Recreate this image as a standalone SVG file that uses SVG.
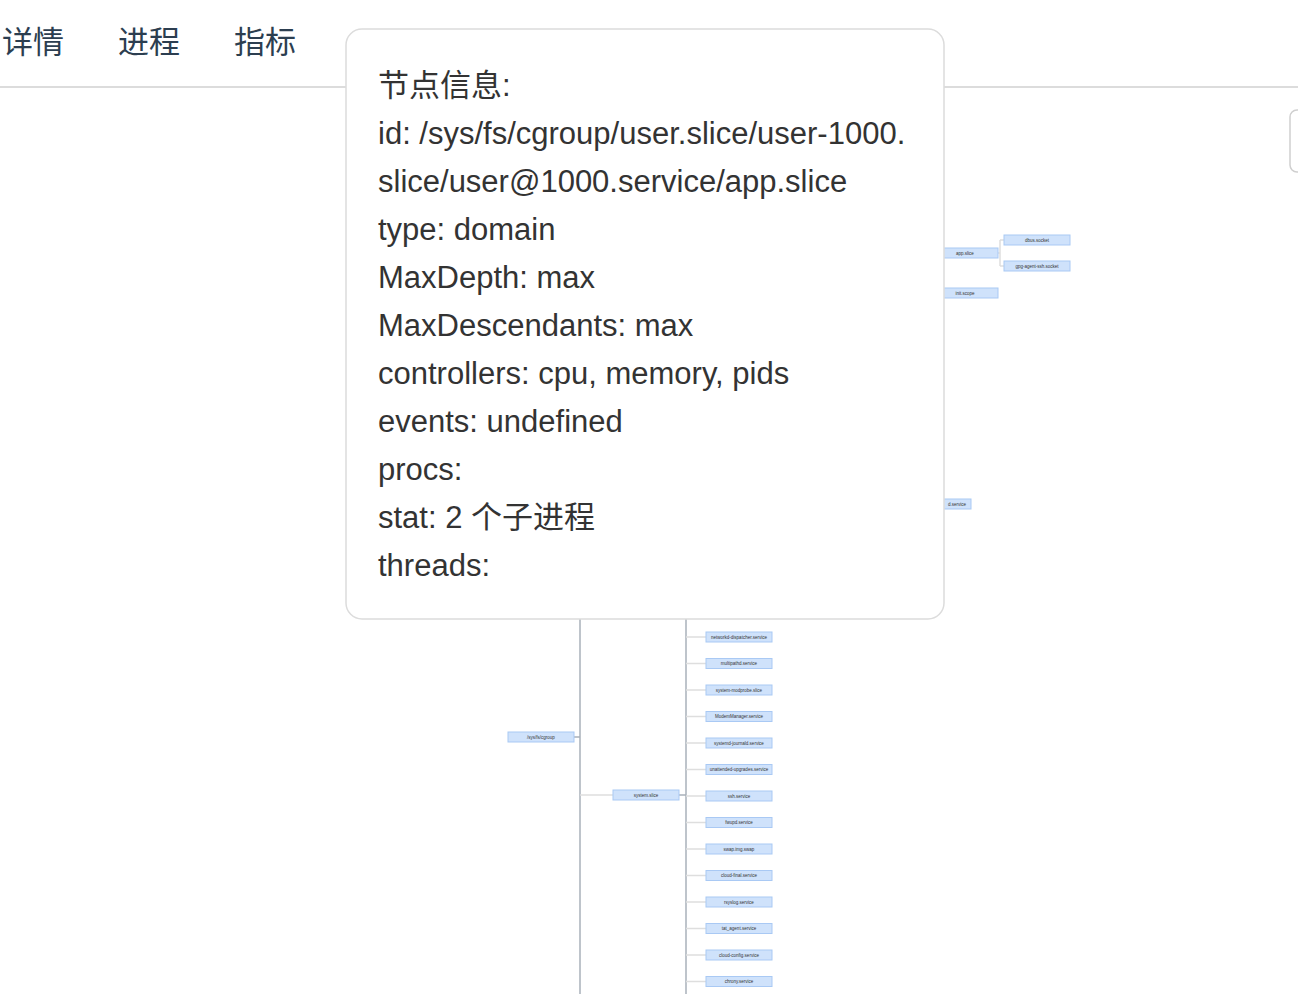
<svg xmlns="http://www.w3.org/2000/svg" width="1298" height="994" viewBox="0 0 1298 994">
<style>
.tab{font-family:"Liberation Sans","Noto Sans CJK SC",sans-serif;font-size:31px;fill:#2c3e50}
.node rect{fill:#cfe2fb;stroke:#a9c9f4;stroke-width:1}
.node text{font-family:"Liberation Sans",sans-serif;font-size:4.5px;fill:#333;text-anchor:middle}
.trunk{stroke:#a9b1ba;stroke-width:1.5;fill:none}
.branch{stroke:#dedede;stroke-width:1.5;fill:none}
.tip text{font-family:"Liberation Sans","Noto Sans CJK SC",sans-serif;font-size:31px;fill:#333}
</style>
<rect width="1298" height="994" fill="#fff"/>
<g id="tabs">
<text class="tab" x="2" y="53">详情</text>
<text class="tab" x="118" y="53">进程</text>
<text class="tab" x="234" y="53">指标</text>
<line x1="0" y1="87" x2="1298" y2="87" stroke="#dcdcdc" stroke-width="2"/>
</g>
<rect id="side-button" x="1290" y="110" width="20" height="62" rx="7" fill="#fff" stroke="#cfcfcf" stroke-width="1.5"/>
<g id="connectors">
<line class="trunk" x1="580" y1="560" x2="580" y2="994"/>
<line class="trunk" x1="574" y1="737" x2="580" y2="737"/>
<line class="branch" x1="580" y1="795" x2="613" y2="795"/>
<line class="trunk" x1="686" y1="560" x2="686" y2="994"/>
<line class="trunk" x1="679" y1="795" x2="686" y2="795"/>
<path class="branch" d="M686 637H706M686 663.5H706M686 690H706M686 716.5H706M686 743H706M686 769.5H706M686 796H706M686 822.5H706M686 849H706M686 875.5H706M686 902H706M686 928.5H706M686 955H706M686 981.5H706"/>
<path class="branch" d="M998 253H1000M1000 240V266M1000 240H1004M1000 266H1004"/>
</g>
<g id="node-cgroup" class="node"><rect x="508" y="732" width="66" height="10"/><text x="541" y="738.6">/sys/fs/cgroup</text></g>
<g id="node-system-slice" class="node"><rect x="613" y="790" width="66" height="10"/><text x="646" y="796.6">system.slice</text></g>
<g id="node-networkd" class="node"><rect x="706" y="632" width="66" height="10"/><text x="739" y="638.6">networkd-dispatcher.service</text></g>
<g id="node-multipathd" class="node"><rect x="706" y="658.5" width="66" height="10"/><text x="739" y="665.1">multipathd.service</text></g>
<g id="node-modprobe" class="node"><rect x="706" y="685" width="66" height="10"/><text x="739" y="691.6">system-modprobe.slice</text></g>
<g id="node-modem" class="node"><rect x="706" y="711.5" width="66" height="10"/><text x="739" y="718.1">ModemManager.service</text></g>
<g id="node-journald" class="node"><rect x="706" y="738" width="66" height="10"/><text x="739" y="744.6">systemd-journald.service</text></g>
<g id="node-unattended" class="node"><rect x="706" y="764.5" width="66" height="10"/><text x="739" y="771.1">unattended-upgrades.service</text></g>
<g id="node-ssh" class="node"><rect x="706" y="791" width="66" height="10"/><text x="739" y="797.6">ssh.service</text></g>
<g id="node-fwupd" class="node"><rect x="706" y="817.5" width="66" height="10"/><text x="739" y="824.1">fwupd.service</text></g>
<g id="node-swap" class="node"><rect x="706" y="844" width="66" height="10"/><text x="739" y="850.6">swap.img.swap</text></g>
<g id="node-cloud-final" class="node"><rect x="706" y="870.5" width="66" height="10"/><text x="739" y="877.1">cloud-final.service</text></g>
<g id="node-rsyslog" class="node"><rect x="706" y="897" width="66" height="10"/><text x="739" y="903.6">rsyslog.service</text></g>
<g id="node-tat" class="node"><rect x="706" y="923.5" width="66" height="10"/><text x="739" y="930.1">tat_agent.service</text></g>
<g id="node-cloud-config" class="node"><rect x="706" y="950" width="66" height="10"/><text x="739" y="956.6">cloud-config.service</text></g>
<g id="node-chrony" class="node"><rect x="706" y="976.5" width="66" height="10"/><text x="739" y="983.1">chrony.service</text></g>
<g id="node-app-slice" class="node"><rect x="932" y="248" width="66" height="10"/><text x="965" y="254.6">app.slice</text></g>
<g id="node-dbus" class="node"><rect x="1004" y="235" width="66" height="10"/><text x="1037" y="241.6">dbus.socket</text></g>
<g id="node-gpg" class="node"><rect x="1004" y="261" width="66" height="10"/><text x="1037" y="267.6">gpg-agent-ssh.socket</text></g>
<g id="node-init" class="node"><rect x="932" y="288" width="66" height="10"/><text x="965" y="294.6">init.scope</text></g>
<g id="node-service" class="node"><rect x="905" y="499" width="66" height="10"/><text x="966" y="505.6" style="text-anchor:end">d.service</text></g>
<g id="tooltip" class="tip">
<rect x="346" y="29" width="598" height="590" rx="16" fill="#fff" stroke="#dcdcdc" stroke-width="1.5"/>
<text x="378" y="96">节点信息:</text>
<text x="378" y="144">id: /sys/fs/cgroup/user.slice/user-1000.</text>
<text x="378" y="192">slice/user@1000.service/app.slice</text>
<text x="378" y="240">type: domain</text>
<text x="378" y="288">MaxDepth: max</text>
<text x="378" y="336">MaxDescendants: max</text>
<text x="378" y="384">controllers: cpu, memory, pids</text>
<text x="378" y="432">events: undefined</text>
<text x="378" y="480">procs:</text>
<text x="378" y="528">stat: 2 个子进程</text>
<text x="378" y="576">threads:</text>
</g>
</svg>
